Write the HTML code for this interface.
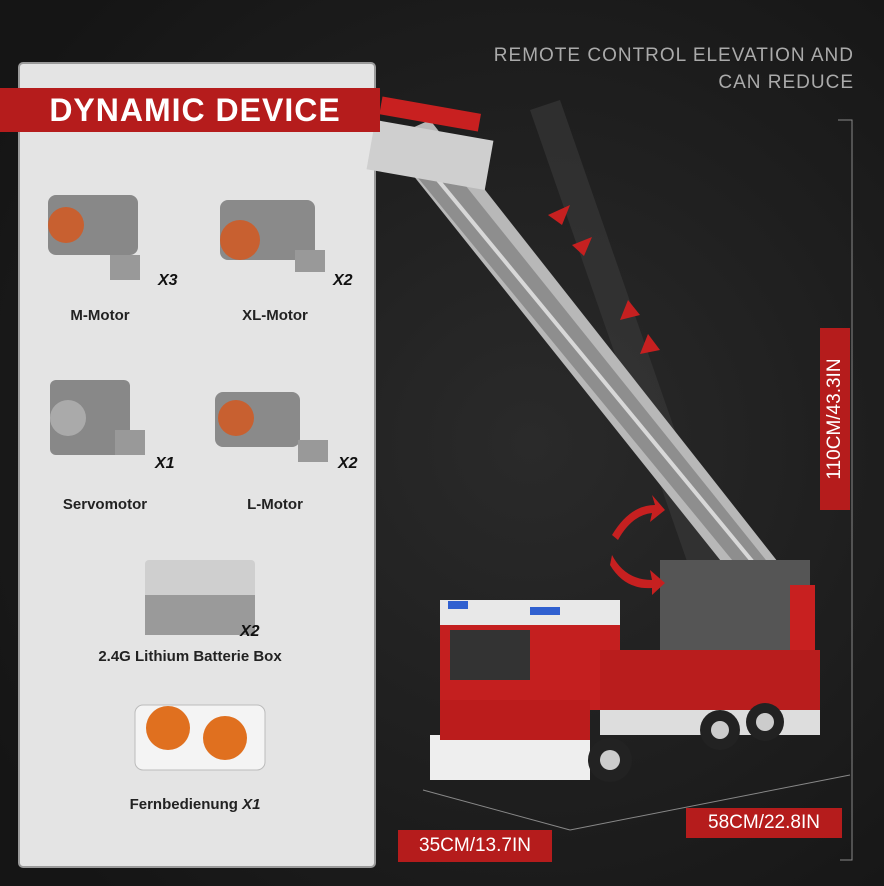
<!DOCTYPE html>
<html><head><meta charset="utf-8"><style>
html,body{margin:0;padding:0}
body{width:884px;height:886px;overflow:hidden;background:#1c1c1c;position:relative;font-family:"Liberation Sans",sans-serif}
.abs{position:absolute}
.banner{left:0;top:88px;width:380px;height:44px;background:#b51c1c;color:#fff;font:bold 32px "Liberation Sans Narrow","Liberation Sans",sans-serif;letter-spacing:1px;text-align:center;line-height:44px;padding-left:10px;box-sizing:border-box}
.lbl{font:bold 15px "Liberation Sans",sans-serif;color:#222;text-align:center}
.x{font:italic bold 16px "Liberation Sans",sans-serif;color:#111}
.red{background:#b51c1c;color:#fff;font-size:19px;text-align:center}
</style></head><body>
<svg class="abs" style="left:0;top:0" width="884" height="886">
<defs><radialGradient id="bg" cx="0.6" cy="0.5" r="0.7"><stop offset="0" stop-color="#2a2a2a"/><stop offset="1" stop-color="#151515"/></radialGradient></defs>
<rect width="884" height="886" fill="url(#bg)"/>
<rect x="19" y="63" width="356" height="804" rx="4" fill="#e4e4e4" stroke="#9a9a9a" stroke-width="2"/>
<polygon points="530,110 560,100 720,560 690,570" fill="#3a3a3a" opacity="0.6"/>
<polygon points="385,140 430,120 800,590 760,610" fill="#b8b8b8"/>
<polygon points="395,150 425,135 790,590 765,600" fill="#8e8e8e"/>
<line x1="405" y1="140" x2="780" y2="595" stroke="#d8d8d8" stroke-width="4"/>
<rect x="370" y="130" width="120" height="50" fill="#cfcfcf" transform="rotate(10 430 155)"/>
<rect x="380" y="105" width="100" height="18" fill="#c82020" transform="rotate(10 430 115)"/>
<rect x="660" y="560" width="150" height="90" fill="#555"/>
<rect x="790" y="585" width="25" height="80" fill="#c82020"/>
<rect x="440" y="600" width="180" height="110" fill="#c41f1f"/>
<rect x="440" y="600" width="180" height="25" fill="#e8e8e8"/>
<rect x="450" y="630" width="80" height="50" fill="#333"/>
<rect x="430" y="735" width="160" height="45" fill="#eee"/>
<rect x="440" y="700" width="150" height="40" fill="#bb1c1c"/>
<rect x="600" y="650" width="220" height="80" fill="#b91d1d"/>
<rect x="600" y="710" width="220" height="25" fill="#ddd"/>
<circle cx="610" cy="760" r="22" fill="#222"/><circle cx="610" cy="760" r="10" fill="#ccc"/>
<circle cx="720" cy="730" r="20" fill="#222"/><circle cx="720" cy="730" r="9" fill="#ccc"/>
<circle cx="765" cy="722" r="19" fill="#222"/><circle cx="765" cy="722" r="9" fill="#ccc"/>
<rect x="448" y="601" width="20" height="8" fill="#3060d0"/><rect x="530" y="607" width="30" height="8" fill="#3060d0"/>
<g fill="#c62020">
<polygon points="548,215 570,205 562,225"/><polygon points="572,245 592,237 584,256"/>
<polygon points="640,315 620,320 628,300"/><polygon points="660,350 640,354 648,334"/>
<path d="M612,535 Q630,505 655,505 L652,495 L665,510 L650,522 L652,513 Q632,515 618,540Z"/>
<path d="M612,555 Q625,580 652,580 L650,570 L665,583 L652,595 L652,588 Q625,590 610,565Z"/>
</g>
<g stroke="#888" stroke-width="1" fill="none">
<polyline points="838,120 852,120 852,860 840,860"/>
<line x1="423" y1="790" x2="570" y2="830"/><line x1="570" y1="830" x2="850" y2="775"/>
</g>
<g>
<rect x="48" y="195" width="90" height="60" rx="8" fill="#888"/><circle cx="66" cy="225" r="18" fill="#c86030"/>
<rect x="110" y="255" width="30" height="25" fill="#999"/>
<rect x="220" y="200" width="95" height="60" rx="8" fill="#8a8a8a"/><circle cx="240" cy="240" r="20" fill="#c86030"/>
<rect x="295" y="250" width="30" height="22" fill="#999"/>
<rect x="50" y="380" width="80" height="75" rx="6" fill="#888"/><circle cx="68" cy="418" r="18" fill="#aaa"/>
<rect x="115" y="430" width="30" height="25" fill="#999"/>
<rect x="215" y="392" width="85" height="55" rx="8" fill="#8a8a8a"/><circle cx="236" cy="418" r="18" fill="#c86030"/>
<rect x="298" y="440" width="30" height="22" fill="#999"/>
<rect x="145" y="560" width="110" height="55" rx="4" fill="#cfcfcf"/><rect x="145" y="595" width="110" height="40" fill="#9a9a9a"/>
<rect x="135" y="705" width="130" height="65" rx="8" fill="#f4f4f4" stroke="#bbb"/>
<circle cx="168" cy="728" r="22" fill="#e0701f"/><circle cx="225" cy="738" r="22" fill="#e0701f"/>
</g>
</svg>
<div class="abs banner">DYNAMIC DEVICE</div>
<div class="abs x" style="left:158px;top:272px">X3</div>
<div class="abs x" style="left:333px;top:272px">X2</div>
<div class="abs x" style="left:155px;top:455px">X1</div>
<div class="abs x" style="left:338px;top:455px">X2</div>
<div class="abs x" style="left:240px;top:623px">X2</div>
<div class="abs lbl" style="left:40px;top:307px;width:120px">M-Motor</div>
<div class="abs lbl" style="left:215px;top:307px;width:120px">XL-Motor</div>
<div class="abs lbl" style="left:40px;top:496px;width:130px">Servomotor</div>
<div class="abs lbl" style="left:215px;top:496px;width:120px">L-Motor</div>
<div class="abs lbl" style="left:60px;top:648px;width:260px">2.4G Lithium Batterie Box</div>
<div class="abs lbl" style="left:110px;top:796px;width:170px">Fernbedienung <i>X1</i></div>
<div class="abs" style="right:30px;top:42px;color:#aaa;font-size:19px;letter-spacing:1px;text-align:right;line-height:27px">REMOTE CONTROL ELEVATION AND<br>CAN REDUCE</div>
<div class="abs red" style="left:820px;top:328px;width:30px;height:182px"><div style="position:absolute;left:-76px;top:76px;width:182px;height:30px;line-height:30px;transform:rotate(-90deg)">110CM/43.3IN</div></div>
<div class="abs red" style="left:398px;top:830px;width:154px;height:32px;line-height:32px">35CM/13.7IN</div>
<div class="abs red" style="left:686px;top:808px;width:156px;height:30px;line-height:30px">58CM/22.8IN</div>
</body></html>
